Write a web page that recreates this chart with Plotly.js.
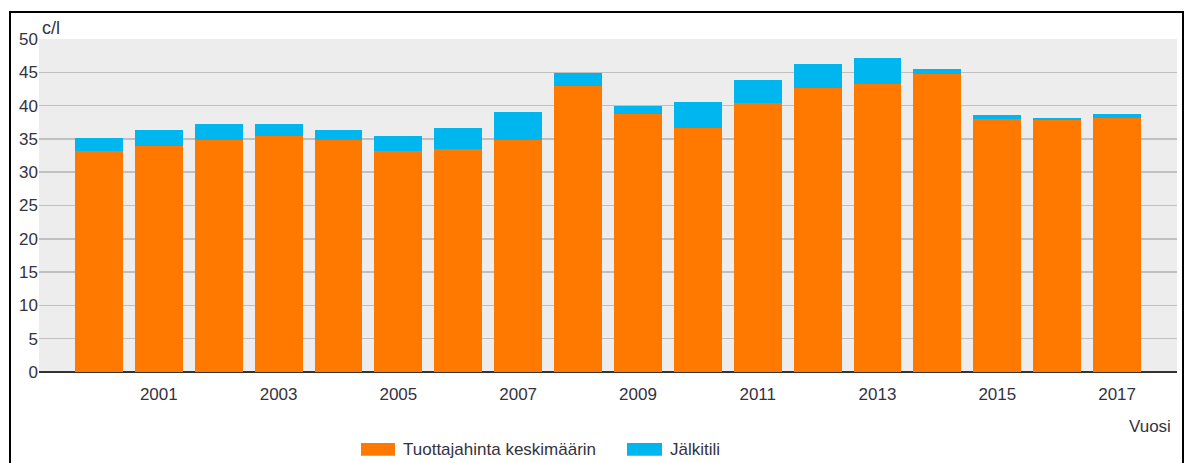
<!DOCTYPE html>
<html>
<head>
<meta charset="utf-8">
<script src="https://cdn.plot.ly/plotly-3.0.1.min.js"></script>
<style>html,body{margin:0;padding:0;background:#fff;}#chart{width:1192px;height:463px;}</style>
</head>
<body>
<div id="chart"></div>
<script>
const years = [2000,2001,2002,2003,2004,2005,2006,2007,2008,2009,2010,2011,2012,2013,2014,2015,2016,2017];
const tuottajahinta = [33.2,34.0,34.8,35.4,34.9,33.2,33.5,34.9,43.0,38.7,36.7,40.4,42.6,43.3,44.7,38.0,37.8,38.2];
const jalkitili = [2.0,2.4,2.5,1.9,1.5,2.2,3.2,4.1,1.85,1.3,3.9,3.4,3.7,3.9,0.8,0.6,0.4,0.6];
const xTickVals = [2001,2003,2005,2007,2009,2011,2013,2015,2017];
const seriesNames = ['Tuottajahinta keskimäärin','Jälkitili'];
const yAxisLabel = 'c/l';
const xAxisLabel = 'Vuosi';

const orange = '#FF7800';
const cyan = '#00B6EF';
const txt = '#333340';
const fontFam = '"Liberation Sans", Arial, sans-serif';

const traces = [
  {type:'bar', x:years, y:tuottajahinta, name:seriesNames[0], marker:{color:orange, line:{width:0}}, width:0.8},
  {type:'bar', x:years, y:jalkitili, name:seriesNames[1], marker:{color:cyan, line:{width:0}}, width:0.8}
];

const L = 39, R = 1177, T = 38.5, B = 372;
const W = R - L, H = B - T;
const px = v => (v - L) / W;
const py = v => (B - v) / H;

const layout = {
  width:1192, height:463,
  margin:{l:L, r:1192-R, t:T, b:463-B, pad:0},
  barmode:'stack',
  bargap:0.2,
  showlegend:false,
  paper_bgcolor:'#ffffff',
  plot_bgcolor:'#ededed',
  font:{family:fontFam, color:txt, size:17},
  xaxis:{
    range:[1999, 2018], tickvals:xTickVals, ticktext:xTickVals.map(String),
    showgrid:false, zeroline:false, showline:false, ticks:'', ticklabelstandoff:10,
    tickfont:{size:17, color:txt}, fixedrange:true
  },
  yaxis:{
    range:[0,50], dtick:5, tick0:0, showgrid:true, gridcolor:'#c0c0c0', gridwidth:1.5,
    zeroline:true, zerolinecolor:'#333333', zerolinewidth:2, showline:false, ticks:'',
    ticklabelstandoff:0, tickfont:{size:17, color:txt}, fixedrange:true
  },
  shapes:[
    {type:'rect', xref:'paper', yref:'paper', x0:px(10), x1:px(1183), y0:py(520), y1:py(11.5), line:{color:'#000', width:2}, fillcolor:'rgba(0,0,0,0)', layer:'above'},
    {type:'rect', xref:'paper', yref:'paper', x0:px(361), x1:px(395), y0:py(456), y1:py(443), line:{width:0}, fillcolor:orange},
    {type:'rect', xref:'paper', yref:'paper', x0:px(627), x1:px(662), y0:py(456), y1:py(443), line:{width:0}, fillcolor:cyan}
  ],
  annotations:[
    {text:yAxisLabel, xref:'paper', yref:'paper', x:px(40), y:py(27), xanchor:'left', yanchor:'middle', showarrow:false, font:{size:18, color:txt}},
    {text:xAxisLabel, xref:'paper', yref:'paper', x:px(1173), y:py(427), xanchor:'right', yanchor:'middle', showarrow:false, font:{size:17, color:txt}},
    {text:seriesNames[0], xref:'paper', yref:'paper', x:px(401), y:py(450), xanchor:'left', yanchor:'middle', showarrow:false, font:{size:17, color:txt}},
    {text:seriesNames[1], xref:'paper', yref:'paper', x:px(668), y:py(450), xanchor:'left', yanchor:'middle', showarrow:false, font:{size:17, color:txt}}
  ]
};

Plotly.newPlot('chart', traces, layout, {displayModeBar:false, staticPlot:true});
</script>
</body>
</html>
